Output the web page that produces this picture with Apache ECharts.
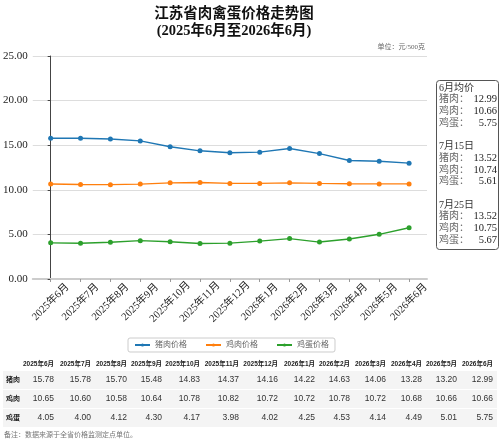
<!DOCTYPE html>
<html>
<head>
<meta charset="utf-8">
<script src="https://cdn.jsdelivr.net/npm/echarts@6/dist/echarts.min.js"></script>
<style>html,body{margin:0;padding:0;background:#fff}#c{width:500px;height:446px}</style>
</head>
<body>
<div id="c"></div>
<script>
var months = ['2025年6月','2025年7月','2025年8月','2025年9月','2025年10月','2025年11月','2025年12月','2026年1月','2026年2月','2026年3月','2026年4月','2026年5月','2026年6月'];
var seriesNames = ['猪肉价格','鸡肉价格','鸡蛋价格'];
var rowNames = ['猪肉','鸡肉','鸡蛋'];
var pork = [15.78,15.78,15.70,15.48,14.83,14.37,14.16,14.22,14.63,14.06,13.28,13.20,12.99];
var chicken = [10.65,10.60,10.58,10.64,10.78,10.82,10.72,10.72,10.78,10.72,10.68,10.66,10.66];
var egg = [4.05,4.00,4.12,4.30,4.17,3.98,4.02,4.25,4.53,4.14,4.49,5.01,5.75];
var yTicks = [0,5,10,15,20,25];
var boxTitles = ['6月均价','7月15日','7月25日'];
var juneAvg = [12.99,10.66,5.75];
var jul15 = [13.52,10.74,5.61];
var jul25 = [13.52,10.75,5.67];
var unitText = '单位：元/500克';
var noteText = '备注：数据来源于全省价格监测定点单位。';

var colors = ['#1f77b4','#ff7f0e','#2ca02c'];
var serif = "'Liberation Serif','DejaVu Serif','Noto Sans CJK SC',serif";
var sans = "'Liberation Sans','Noto Sans CJK SC',sans-serif";
var allSeries = [pork, chicken, egg];
var idx = months.map(function(m,i){return i;});

var chart = echarts.init(document.getElementById('c'));

var graphics = [];
graphics.push({type:'text', x:425, y:47, style:{text:unitText, fill:'#666', font:'7px '+serif, align:'right', verticalAlign:'middle'}});

graphics.push({type:'rect', shape:{x:436.5, y:80.5, width:62, height:169, r:3}, style:{fill:'#fff', stroke:'#555', lineWidth:1}});
var sections = [juneAvg, jul15, jul25];
var lineY = 88, lh = 11.7;
sections.forEach(function(vals, s){
  graphics.push({type:'text', x:439, y:lineY, style:{text:boxTitles[s], fill:'#333', font:'10px '+serif, verticalAlign:'middle'}});
  lineY += lh;
  vals.forEach(function(v, k){
    graphics.push({type:'text', x:439, y:lineY, style:{text:rowNames[k]+'：', fill:'#666', font:'10px '+serif, verticalAlign:'middle'}});
    graphics.push({type:'text', x:497, y:lineY, style:{text:v.toFixed(2), fill:'#222', font:'10.5px '+serif, align:'right', verticalAlign:'middle'}});
    lineY += lh;
  });
  lineY += lh;
});

var colRight = [54,91,127,162,200,239,278,315,350,386,422,457,493];
var rowY = [380,399,418];
[371,390,409].forEach(function(y){
  graphics.push({type:'rect', shape:{x:3, y:y, width:494, height:18}, style:{fill:'#f4f4f4'}});
});
months.forEach(function(m,i){
  graphics.push({type:'text', x:colRight[i], y:364, style:{text:m, fill:'#222', font:'bold 6.5px '+sans, align:'right', verticalAlign:'middle'}});
});
allSeries.forEach(function(arr, r){
  graphics.push({type:'text', x:6, y:rowY[r], style:{text:rowNames[r], fill:'#222', font:'bold 7px '+sans, verticalAlign:'middle'}});
  arr.forEach(function(v,i){
    graphics.push({type:'text', x:colRight[i], y:rowY[r], style:{text:v.toFixed(2), fill:'#333', font:'8.5px '+sans, align:'right', verticalAlign:'middle'}});
  });
});
graphics.push({type:'text', x:4, y:435, style:{text:noteText, fill:'#777', font:'7px '+serif, verticalAlign:'middle'}});

chart.setOption({
  animation:false,
  backgroundColor:'#fff',
  title:{
    text:'江苏省肉禽蛋价格走势图\n(2025年6月至2026年6月)',
    left:229, top:1, textAlign:'center',
    textStyle:{fontSize:14.5, fontWeight:'bold', color:'#111', lineHeight:17, fontFamily:serif}
  },
  legend:{
    data:seriesNames, left:128, top:338,
    padding:[3,6], itemGap:18, itemWidth:15, itemHeight:4,
    borderColor:'#ccc', borderWidth:1, borderRadius:2,
    textStyle:{fontSize:8, color:'#666', fontFamily:serif}
  },
  grid:{left:32, right:73, top:56, bottom:167},
  xAxis:{
    type:'value', min:-0.6, max:12.6,
    splitLine:{show:false},
    axisLine:{show:true, onZero:false, lineStyle:{color:'#ccc', width:2}},
    axisTick:{show:true, customValues:idx, length:3, lineStyle:{color:'#999'}},
    axisLabel:{customValues:idx, rotate:45, margin:23, align:'center', verticalAlign:'middle',
      fontSize:10.5, color:'#222', fontFamily:serif,
      formatter:function(v){return months[Math.round(v)];}}
  },
  yAxis:{
    type:'value', min:0, max:25, interval:5,
    axisLine:{show:true, lineStyle:{color:'#444', width:1}},
    axisTick:{show:true, length:3, lineStyle:{color:'#444'}},
    splitLine:{lineStyle:{color:'#ddd', width:1}},
    axisLabel:{margin:5, fontSize:11, color:'#222', fontFamily:serif, formatter:function(v){return v.toFixed(2);}}
  },
  series: allSeries.map(function(arr, s){
    return {
      name:seriesNames[s], type:'line', data:arr.map(function(v,i){return [i,v];}),
      symbol:'circle', symbolSize:5, showSymbol:true,
      itemStyle:{color:colors[s]}, lineStyle:{color:colors[s], width:1.4}
    };
  }),
  graphic:graphics
});
</script>
</body>
</html>
